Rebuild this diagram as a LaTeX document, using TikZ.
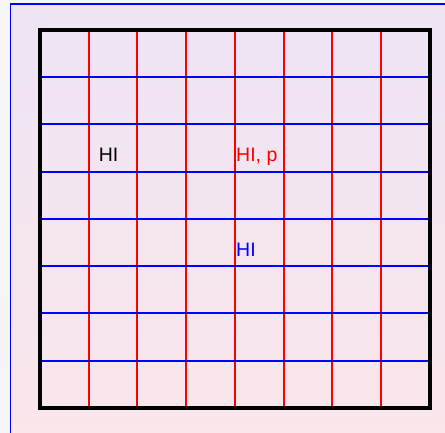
\documentclass[tikz,border=0pt]{standalone}
\usepackage{fontspec}
\setmainfont{Liberation Sans}
\definecolor{bgtop}{RGB}{237,228,244}
\definecolor{bgbot}{RGB}{250,230,235}
\definecolor{outer}{RGB}{245,245,245}
\definecolor{gridred}{RGB}{255,0,0}
\definecolor{gridblue}{RGB}{0,0,255}
\tikzset{
  vline/.style={draw=gridred, line width=2pt},
  hline/.style={draw=gridblue, line width=2pt},
  frame/.style={draw=black, line width=4pt},
  lbl/.style={inner sep=0pt, font=\fontsize{19.5}{22}\selectfont}
}
\begin{document}
\begin{tikzpicture}[x=1pt,y=1pt]
\useasboundingbox (0,-433) rectangle (445,0);
\fill[outer] (0,-433) rectangle (445,0);
\shade[top color=bgtop, bottom color=bgbot] (10.5,-440) rectangle (452,-4);
\draw[gridblue, line width=1.5pt] (10.5,-440) -- (10.5,-4) -- (452,-4);
\foreach \x in {89,137,186,235,284,332,381} {
  \draw[vline] (\x,-30) -- (\x,-408);
}
\foreach \y in {77,124,172,219,266,313,361} {
  \draw[hline] (40,-\y) -- (430,-\y);
}
\draw[frame] (40,-408) rectangle (430,-30);
\node[lbl, anchor=base, text=black] (hiA) at (108.5,-162) {HI};
\node[lbl, anchor=base west, text=gridred] (hiB) at (236,-162) {HI, p};
\node[lbl, anchor=base west, text=gridblue] (hiC) at (236,-257) {HI};
\end{tikzpicture}
\end{document}
